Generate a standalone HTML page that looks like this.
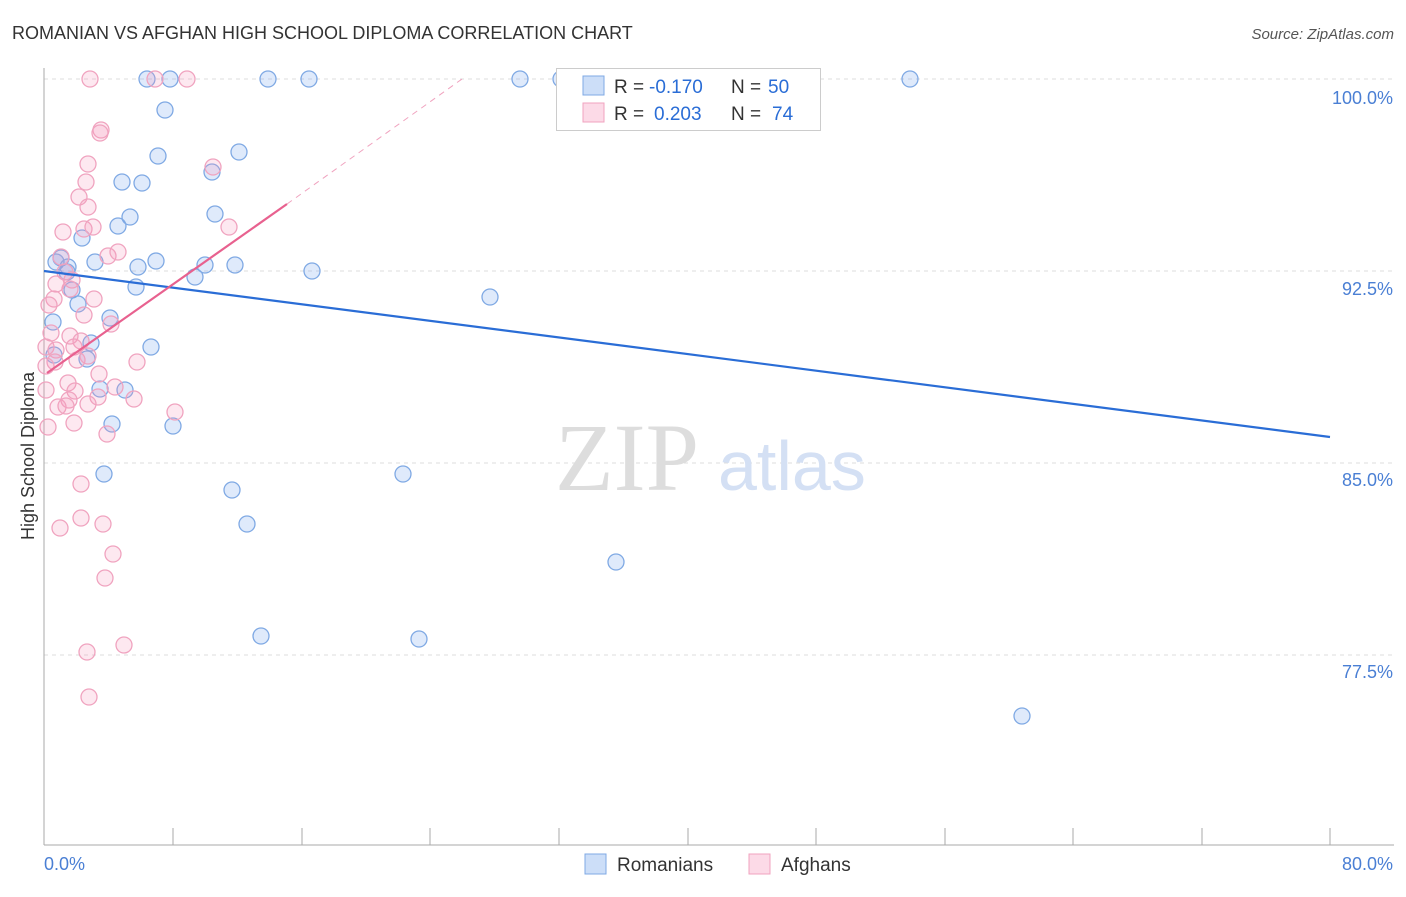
<!DOCTYPE html>
<html><head><meta charset="utf-8"><style>
body{margin:0;background:#fff;font-family:"Liberation Sans",sans-serif;}
</style></head><body>
<svg width="1406" height="892" xmlns="http://www.w3.org/2000/svg" font-family="Liberation Sans, sans-serif">
<rect width="1406" height="892" fill="#fff"/>
<text x="12" y="39" font-size="18" fill="#333">ROMANIAN VS AFGHAN HIGH SCHOOL DIPLOMA CORRELATION CHART</text>
<text x="1394" y="39" font-size="15" fill="#555" text-anchor="end" font-style="italic">Source: ZipAtlas.com</text>
<g stroke="#ddd" stroke-dasharray="4,4">
<line x1="44" y1="79" x2="1394" y2="79"/><line x1="44" y1="271" x2="1394" y2="271"/>
<line x1="44" y1="463" x2="1394" y2="463"/><line x1="44" y1="655" x2="1394" y2="655"/>
</g>
<g stroke="#aaa"><line x1="44" y1="68" x2="44" y2="845"/><line x1="44" y1="845" x2="1394" y2="845"/>
<line x1="173" y1="828" x2="173" y2="845"/><line x1="302" y1="828" x2="302" y2="845"/><line x1="430" y1="828" x2="430" y2="845"/><line x1="559" y1="828" x2="559" y2="845"/><line x1="688" y1="828" x2="688" y2="845"/><line x1="816" y1="828" x2="816" y2="845"/><line x1="945" y1="828" x2="945" y2="845"/><line x1="1073" y1="828" x2="1073" y2="845"/><line x1="1202" y1="828" x2="1202" y2="845"/><line x1="1330" y1="828" x2="1330" y2="845"/></g>
<g font-size="18" fill="#4a7fd4" text-anchor="end">
<text x="1393" y="104">100.0%</text><text x="1393" y="295">92.5%</text><text x="1393" y="486">85.0%</text><text x="1393" y="678">77.5%</text></g>
<text x="44" y="870" font-size="18" fill="#4a7fd4">0.0%</text>
<text x="1393" y="870" font-size="18" fill="#4a7fd4" text-anchor="end">80.0%</text>
<text x="34" y="456" font-size="18" fill="#333" transform="rotate(-90 34 456)" text-anchor="middle">High School Diploma</text>
<text x="555" y="490" font-size="96" fill="#ddd" font-family="Liberation Serif, serif">ZIP</text>
<text x="718" y="490" font-size="70" fill="#d4e0f4">atlas</text>
<g fill="rgba(110,160,235,0.22)" stroke="#7fa9e4" stroke-width="1.3">
<circle cx="147" cy="79" r="8"/><circle cx="170" cy="79" r="8"/><circle cx="268" cy="79" r="8"/><circle cx="309" cy="79" r="8"/><circle cx="520" cy="79" r="8"/><circle cx="561" cy="79" r="8"/><circle cx="910" cy="79" r="8"/><circle cx="165" cy="110" r="8"/><circle cx="158" cy="156" r="8"/><circle cx="239" cy="152" r="8"/><circle cx="212" cy="172" r="8"/><circle cx="122" cy="182" r="8"/><circle cx="142" cy="183" r="8"/><circle cx="130" cy="217" r="8"/><circle cx="215" cy="214" r="8"/><circle cx="118" cy="226" r="8"/><circle cx="82" cy="238" r="8"/><circle cx="61" cy="258" r="8"/><circle cx="56" cy="262" r="8"/><circle cx="68" cy="267" r="8"/><circle cx="95" cy="262" r="8"/><circle cx="156" cy="261" r="8"/><circle cx="138" cy="267" r="8"/><circle cx="205" cy="265" r="8"/><circle cx="235" cy="265" r="8"/><circle cx="312" cy="271" r="8"/><circle cx="195" cy="277" r="8"/><circle cx="67" cy="272" r="8"/><circle cx="72" cy="290" r="8"/><circle cx="136" cy="287" r="8"/><circle cx="78" cy="304" r="8"/><circle cx="490" cy="297" r="8"/><circle cx="53" cy="322" r="8"/><circle cx="110" cy="318" r="8"/><circle cx="91" cy="343" r="8"/><circle cx="151" cy="347" r="8"/><circle cx="87" cy="359" r="8"/><circle cx="54" cy="355" r="8"/><circle cx="100" cy="389" r="8"/><circle cx="125" cy="390" r="8"/><circle cx="112" cy="424" r="8"/><circle cx="173" cy="426" r="8"/><circle cx="104" cy="474" r="8"/><circle cx="403" cy="474" r="8"/><circle cx="232" cy="490" r="8"/><circle cx="247" cy="524" r="8"/><circle cx="616" cy="562" r="8"/><circle cx="261" cy="636" r="8"/><circle cx="419" cy="639" r="8"/><circle cx="1022" cy="716" r="8"/>
</g>
<g fill="rgba(245,150,185,0.22)" stroke="#f0a3bf" stroke-width="1.3">
<circle cx="90" cy="79" r="8"/><circle cx="155" cy="79" r="8"/><circle cx="187" cy="79" r="8"/><circle cx="101" cy="130" r="8"/><circle cx="100" cy="133" r="8"/><circle cx="88" cy="164" r="8"/><circle cx="213" cy="167" r="8"/><circle cx="86" cy="182" r="8"/><circle cx="79" cy="197" r="8"/><circle cx="88" cy="207" r="8"/><circle cx="63" cy="232" r="8"/><circle cx="84" cy="229" r="8"/><circle cx="93" cy="227" r="8"/><circle cx="229" cy="227" r="8"/><circle cx="61" cy="257" r="8"/><circle cx="108" cy="256" r="8"/><circle cx="118" cy="252" r="8"/><circle cx="65" cy="272" r="8"/><circle cx="72" cy="280" r="8"/><circle cx="70" cy="289" r="8"/><circle cx="56" cy="284" r="8"/><circle cx="54" cy="299" r="8"/><circle cx="49" cy="305" r="8"/><circle cx="94" cy="299" r="8"/><circle cx="84" cy="315" r="8"/><circle cx="111" cy="324" r="8"/><circle cx="51" cy="333" r="8"/><circle cx="70" cy="336" r="8"/><circle cx="81" cy="341" r="8"/><circle cx="74" cy="347" r="8"/><circle cx="46" cy="347" r="8"/><circle cx="56" cy="350" r="8"/><circle cx="55" cy="362" r="8"/><circle cx="77" cy="360" r="8"/><circle cx="88" cy="356" r="8"/><circle cx="137" cy="362" r="8"/><circle cx="46" cy="366" r="8"/><circle cx="99" cy="374" r="8"/><circle cx="68" cy="383" r="8"/><circle cx="46" cy="390" r="8"/><circle cx="75" cy="391" r="8"/><circle cx="115" cy="387" r="8"/><circle cx="98" cy="397" r="8"/><circle cx="69" cy="400" r="8"/><circle cx="88" cy="404" r="8"/><circle cx="134" cy="399" r="8"/><circle cx="58" cy="407" r="8"/><circle cx="66" cy="406" r="8"/><circle cx="175" cy="412" r="8"/><circle cx="74" cy="423" r="8"/><circle cx="48" cy="427" r="8"/><circle cx="107" cy="434" r="8"/><circle cx="81" cy="484" r="8"/><circle cx="60" cy="528" r="8"/><circle cx="81" cy="518" r="8"/><circle cx="103" cy="524" r="8"/><circle cx="113" cy="554" r="8"/><circle cx="105" cy="578" r="8"/><circle cx="124" cy="645" r="8"/><circle cx="87" cy="652" r="8"/><circle cx="89" cy="697" r="8"/>
</g>
<line x1="44" y1="271" x2="1330" y2="437" stroke="#2a6dd6" stroke-width="2.2"/>
<line x1="47" y1="373" x2="287" y2="204" stroke="#e8618f" stroke-width="2.2"/>
<line x1="287" y1="204" x2="462" y2="79" stroke="#f0a3bf" stroke-width="1" stroke-dasharray="6,5"/>
<rect x="556.5" y="68.5" width="264" height="62" fill="#fff" stroke="#ccc"/>
<rect x="583" y="76" width="21" height="19" fill="rgba(110,160,235,0.35)" stroke="#7fa9e4"/>
<rect x="583" y="103" width="21" height="19" fill="rgba(245,150,185,0.35)" stroke="#f0a3bf"/>
<g font-size="19"><text x="614" y="93" fill="#333">R =</text><text x="649" y="93" fill="#2a6dd6">-0.170</text><text x="731" y="93" fill="#333">N =</text><text x="768" y="93" fill="#2a6dd6">50</text>
<text x="614" y="120" fill="#333">R =</text><text x="654" y="120" fill="#2a6dd6">0.203</text><text x="731" y="120" fill="#333">N =</text><text x="772" y="120" fill="#2a6dd6">74</text></g>
<rect x="585" y="854" width="21" height="20" fill="rgba(110,160,235,0.35)" stroke="#7fa9e4"/>
<text x="617" y="871" font-size="19" fill="#333">Romanians</text>
<rect x="749" y="854" width="21" height="20" fill="rgba(245,150,185,0.35)" stroke="#f0a3bf"/>
<text x="781" y="871" font-size="19" fill="#333">Afghans</text>
</svg>
</body></html>
